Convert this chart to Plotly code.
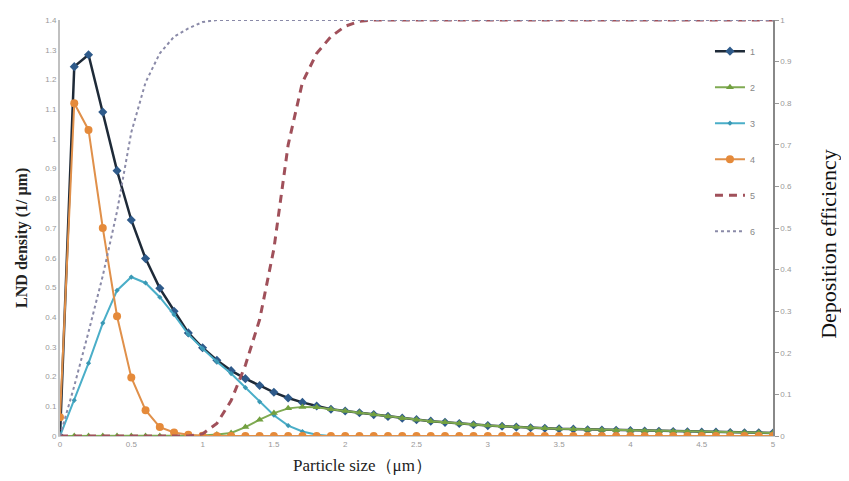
import plotly.graph_objects as go

particle_size = [round(i * 0.1, 1) for i in range(51)]

# Series 1 (total LND density)
s1 = [0.0, 1.243, 1.283, 1.09, 0.893, 0.727, 0.597, 0.497, 0.42, 0.347, 0.297,
      0.255, 0.22, 0.193, 0.17, 0.147, 0.128, 0.113, 0.101, 0.09, 0.084,
      0.078, 0.072, 0.066, 0.060, 0.055, 0.050, 0.046, 0.042, 0.038, 0.035,
      0.033, 0.030, 0.028, 0.026, 0.024, 0.023, 0.021, 0.020, 0.019, 0.018,
      0.017, 0.016, 0.015, 0.014, 0.013, 0.013, 0.012, 0.011, 0.011, 0.010]
# Series 2 (coarse mode)
s2 = [0.0, 0.0, 0.0, 0.0, 0.0, 0.0, 0.0, 0.0, 0.0, 0.001, 0.002,
      0.005, 0.01, 0.03, 0.055, 0.077, 0.093, 0.098, 0.097, 0.09, 0.084,
      0.078, 0.072, 0.066, 0.060, 0.055, 0.050, 0.046, 0.042, 0.038, 0.035,
      0.033, 0.030, 0.028, 0.026, 0.024, 0.023, 0.021, 0.020, 0.019, 0.018,
      0.017, 0.016, 0.015, 0.014, 0.013, 0.013, 0.012, 0.011, 0.011, 0.010]
# Series 3 (accumulation mode)
s3 = [0.0, 0.12, 0.245, 0.38, 0.49, 0.535, 0.515, 0.467, 0.408, 0.342, 0.294,
      0.25, 0.21, 0.163, 0.115, 0.07, 0.035, 0.015, 0.004, 0.0, 0.0,
      0.0, 0.0, 0.0, 0.0, 0.0, 0.0, 0.0, 0.0, 0.0, 0.0,
      0.0, 0.0, 0.0, 0.0, 0.0, 0.0, 0.0, 0.0, 0.0, 0.0,
      0.0, 0.0, 0.0, 0.0, 0.0, 0.0, 0.0, 0.0, 0.0, 0.0]
# Series 4 (nucleation mode)
s4 = [0.063, 1.12, 1.03, 0.70, 0.403, 0.197, 0.087, 0.03, 0.012, 0.004, 0.001,
      0.0, 0.0, 0.0, 0.0, 0.0, 0.0, 0.0, 0.0, 0.0, 0.0,
      0.0, 0.0, 0.0, 0.0, 0.0, 0.0, 0.0, 0.0, 0.0, 0.0,
      0.0, 0.0, 0.0, 0.0, 0.0, 0.0, 0.0, 0.0, 0.0, 0.0,
      0.0, 0.0, 0.0, 0.0, 0.0, 0.0, 0.0, 0.0, 0.0, 0.0]
# Series 5 (deposition efficiency, dashed)
s5 = [0.0, 0.0, 0.0, 0.0, 0.0, 0.0, 0.0, 0.0, 0.0, 0.0, 0.005,
      0.03, 0.085, 0.17, 0.28, 0.45, 0.70, 0.85, 0.92, 0.96, 0.985,
      0.997, 1.0, 1.0, 1.0, 1.0, 1.0, 1.0, 1.0, 1.0, 1.0,
      1.0, 1.0, 1.0, 1.0, 1.0, 1.0, 1.0, 1.0, 1.0, 1.0,
      1.0, 1.0, 1.0, 1.0, 1.0, 1.0, 1.0, 1.0, 1.0, 1.0]
# Series 6 (deposition efficiency, dotted)
s6 = [0.0, 0.12, 0.25, 0.385, 0.54, 0.73, 0.85, 0.92, 0.96, 0.98, 0.995,
      1.0, 1.0, 1.0, 1.0, 1.0, 1.0, 1.0, 1.0, 1.0, 1.0,
      1.0, 1.0, 1.0, 1.0, 1.0, 1.0, 1.0, 1.0, 1.0, 1.0,
      1.0, 1.0, 1.0, 1.0, 1.0, 1.0, 1.0, 1.0, 1.0, 1.0,
      1.0, 1.0, 1.0, 1.0, 1.0, 1.0, 1.0, 1.0, 1.0, 1.0]

left_ticks = [0, 0.1, 0.2, 0.3, 0.4, 0.5, 0.6, 0.7, 0.8, 0.9, 1, 1.1, 1.2, 1.3, 1.4]
right_ticks = [0, 0.1, 0.2, 0.3, 0.4, 0.5, 0.6, 0.7, 0.8, 0.9, 1]
x_ticks = [0, 0.5, 1, 1.5, 2, 2.5, 3, 3.5, 4, 4.5, 5]

fig = go.Figure()

fig.add_trace(go.Scatter(x=particle_size, y=s5, name="5", yaxis="y2", mode="lines",
                         line=dict(color="#a0505a", width=3, dash="8px,6px"),
                         legendgroup="5", legendrank=5))
fig.add_trace(go.Scatter(x=particle_size, y=s6, name="6", yaxis="y2", mode="lines",
                         line=dict(color="#8a8aa8", width=2, dash="dot"),
                         legendgroup="6", legendrank=6))
fig.add_trace(go.Scatter(x=particle_size, y=s1, name="1", mode="lines+markers",
                         line=dict(color="#1e2a38", width=2.5),
                         marker=dict(symbol="diamond", size=7, color="#2e5a8a"),
                         legendgroup="1", legendrank=1))
fig.add_trace(go.Scatter(x=particle_size, y=s3, name="3", mode="lines+markers",
                         line=dict(color="#4aaec8", width=2),
                         marker=dict(symbol="diamond", size=4, color="#3a98b4"),
                         legendgroup="3", legendrank=3))
fig.add_trace(go.Scatter(x=particle_size, y=s2, name="2", mode="lines+markers",
                         line=dict(color="#7faa52", width=2),
                         marker=dict(symbol="triangle-up", size=7, color="#72a040"),
                         legendgroup="2", legendrank=2))
fig.add_trace(go.Scatter(x=particle_size, y=s4, name="4", mode="lines+markers",
                         line=dict(color="#e0904a", width=2),
                         marker=dict(symbol="circle", size=8, color="#e58a3a"),
                         legendgroup="4", legendrank=4))

tickfont = dict(family="Liberation Sans, Arial", size=8, color="#999999")

fig.update_layout(
    width=841, height=473,
    margin=dict(l=52, r=76, t=8, b=45),
    paper_bgcolor="white", plot_bgcolor="white",
    xaxis=dict(range=[0, 5], tickvals=x_ticks, ticktext=[str(v) for v in x_ticks],
               showgrid=False, zeroline=False, showline=True, linecolor="#cccccc",
               linewidth=1, ticks="", tickfont=tickfont),
    yaxis=dict(range=[0, 1.4], tickvals=left_ticks, ticktext=[str(v) for v in left_ticks],
               showgrid=False, zeroline=False, showline=True, linecolor="#c0c0c0",
               linewidth=2, ticks="", tickfont=tickfont),
    yaxis2=dict(range=[0, 1], overlaying="y", side="right",
                tickvals=right_ticks, ticktext=[str(v) for v in right_ticks],
                showgrid=False, zeroline=False, showline=True, linecolor="#888888",
                linewidth=1.5, ticks="outside", ticklen=4, tickcolor="#999999",
                tickfont=tickfont),
    legend=dict(x=0.9116, y=0.96, xanchor="left", yanchor="top",
                font=dict(family="Liberation Sans, Arial", size=9, color="#888888"),
                traceorder="grouped", tracegroupgap=17, bgcolor="rgba(0,0,0,0)",
                itemwidth=30),
    showlegend=True,
    annotations=[
        dict(text="<b>LND density (1/ μm)</b>", xref="paper", yref="paper",
             x=(22 - 60) / 713, y=(436 - 236) / 420, textangle=-90, showarrow=False,
             font=dict(family="Liberation Serif, Times New Roman", size=16, color="#222222"),
             xanchor="center", yanchor="middle"),
        dict(text="Deposition efficiency", xref="paper", yref="paper",
             x=(829 - 60) / 713, y=(436 - 242) / 420, textangle=-90, showarrow=False,
             font=dict(family="Liberation Serif, Times New Roman", size=22, color="#111111"),
             xanchor="center", yanchor="middle"),
        dict(text="Particle size（μm）", xref="paper", yref="paper",
             x=(362 - 60) / 713, y=(436 - 466) / 420, showarrow=False,
             font=dict(family="Liberation Serif, Times New Roman", size=17, color="#222222"),
             xanchor="center", yanchor="middle"),
    ],
)

fig.write_html("out.html")
